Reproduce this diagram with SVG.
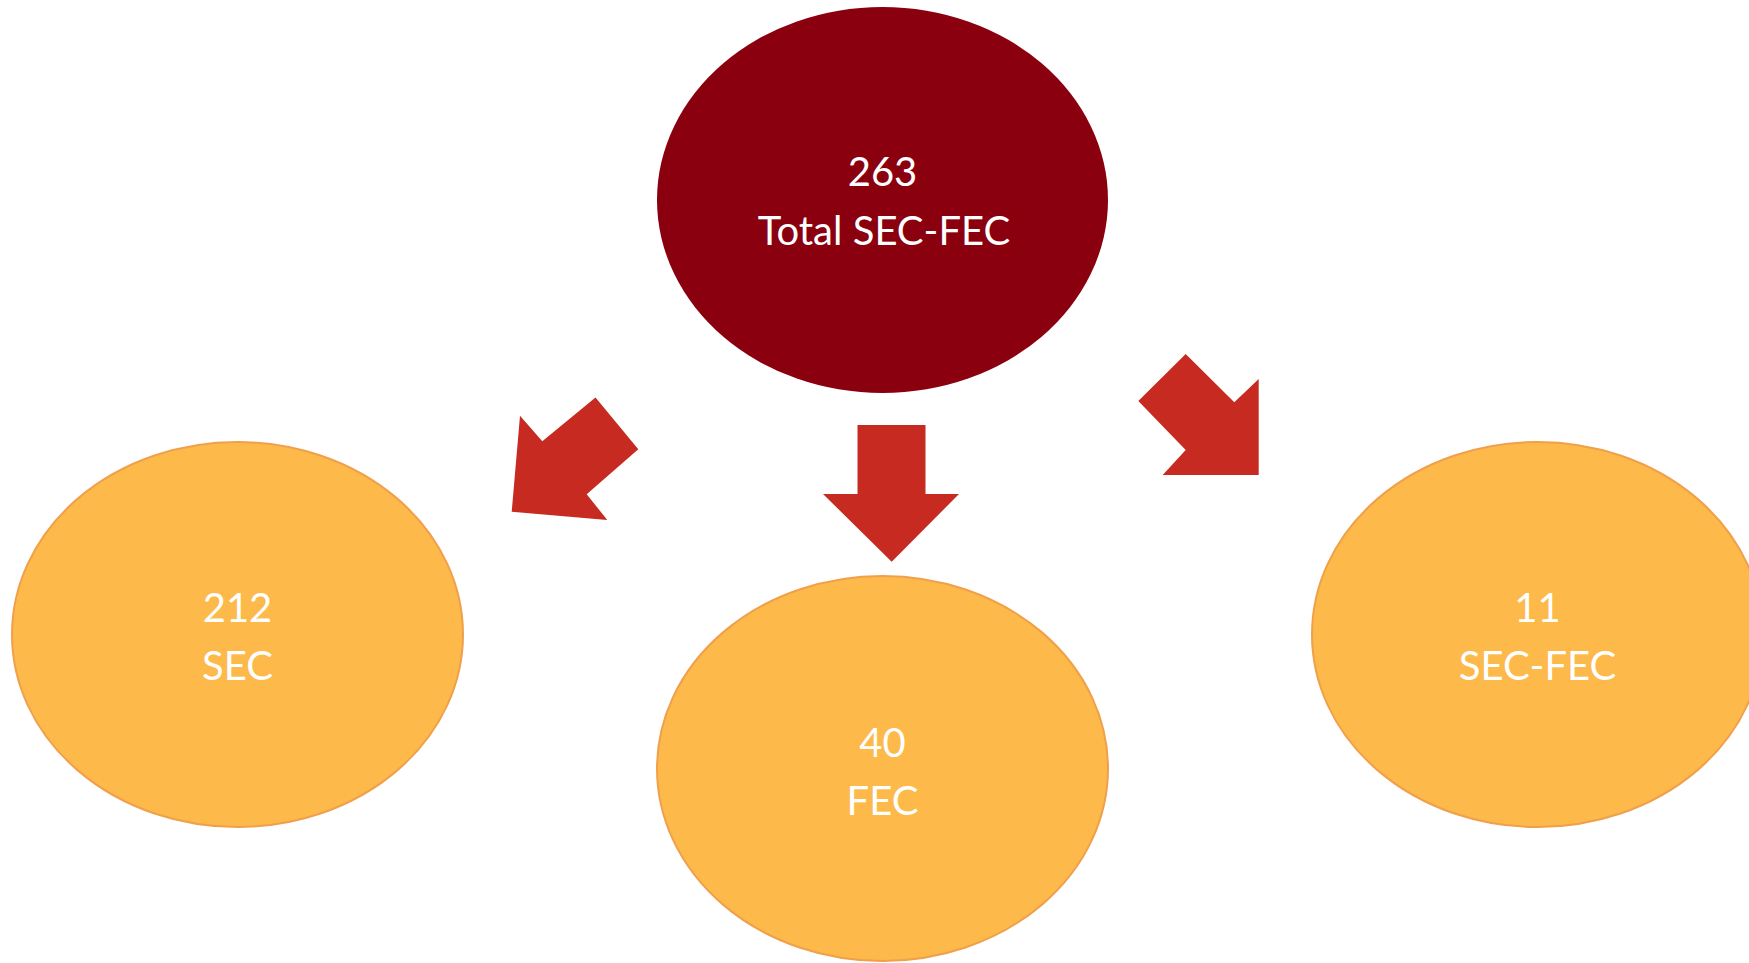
<svg xmlns="http://www.w3.org/2000/svg" width="1749" height="963" viewBox="0 0 1749 963">
  <style>
    .lbl { font-family: Lato, "Open Sans", "Liberation Sans", sans-serif; font-size: 40px; fill: #FFFFFF; text-anchor: middle; }
    .leaf { fill: #FDB949; stroke: #F0A04B; stroke-width: 2; }
    .root { fill: #8A000E; }
    .arrow { fill: #C62A21; }
  </style>
  <rect x="0" y="0" width="1749" height="963" fill="#FFFFFF"/>
  <g id="connectors">
    <polygon class="arrow" points="857.5,425 925.5,425 925.5,494 959,494 891.7,561.7 823,494 857.5,494"/>
    <polygon class="arrow" points="595.5,397.5 638.3,449.3 586.7,494.3 607.3,520 511.7,511.7 520,415.7 542.3,441.3"/>
    <polygon class="arrow" points="1185.7,354 1234.3,402.3 1258.7,379 1258.7,475 1162.7,475 1185.7,450 1138.3,401"/>
  </g>
  <g id="node-total">
    <ellipse class="root" cx="882.5" cy="200" rx="225.5" ry="193"/>
    <text class="lbl" x="882.5" y="186">263</text>
    <text class="lbl" x="884" y="245">Total SEC-FEC</text>
  </g>
  <g id="node-sec">
    <ellipse class="leaf" cx="237.5" cy="634.5" rx="225.5" ry="192.5"/>
    <text class="lbl" x="237.5" y="622">212</text>
    <text class="lbl" x="237.5" y="680">SEC</text>
  </g>
  <g id="node-fec">
    <ellipse class="leaf" cx="882.5" cy="768.5" rx="225.5" ry="192.5"/>
    <text class="lbl" x="882.5" y="757">40</text>
    <text class="lbl" x="882.5" y="815">FEC</text>
  </g>
  <g id="node-secfec">
    <ellipse class="leaf" cx="1537.5" cy="634.5" rx="225.5" ry="192.5"/>
    <text class="lbl" x="1537.5" y="622">11</text>
    <text class="lbl" x="1537.5" y="680">SEC-FEC</text>
  </g>
</svg>
